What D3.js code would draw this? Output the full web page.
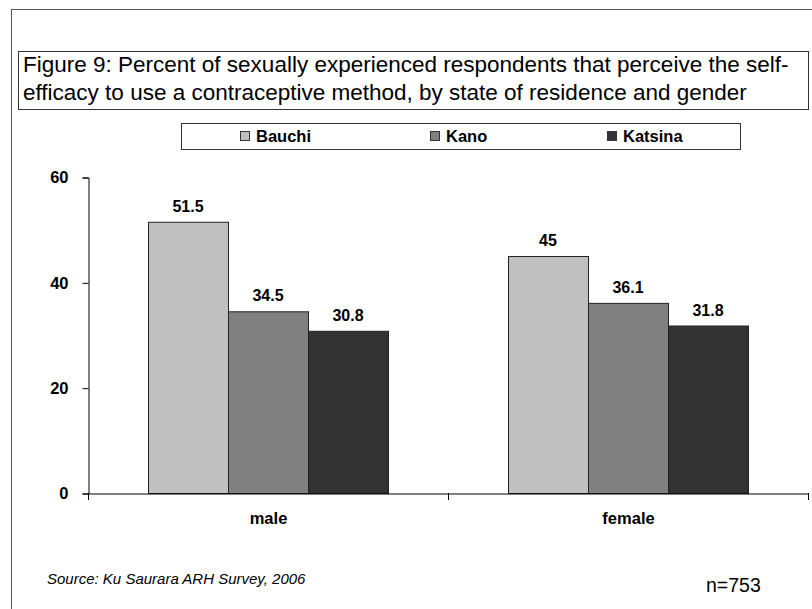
<!DOCTYPE html>
<html>
<head>
<meta charset="utf-8">
<script src="https://cdn.jsdelivr.net/npm/d3@7"></script>
<style>
  html, body { margin: 0; padding: 0; background: #fff; }
  svg { display: block; font-family: "Liberation Sans", Arial, sans-serif; }
</style>
</head>
<body>
<svg id="chart" width="812" height="609"></svg>
<script>
// Respondents who perceive self-efficacy to use a contraceptive method (%)
const categories = ["male", "female"];
const seriesNames = ["Bauchi", "Kano", "Katsina"];
const bauchi = [51.5, 45];
const kano = [34.5, 36.1];
const katsina = [30.8, 31.8];
const yTicks = [0, 20, 40, 60];
const seriesColors = ["#c0c0c0", "#808080", "#333333"];

const titleLines = [
  "Figure 9: Percent of sexually experienced respondents that perceive the self-",
  "efficacy to use a contraceptive method, by state of residence and gender"
];

const svg = d3.select("#chart");

// outer frame
svg.append("rect").attr("x", 11.5).attr("y", 9.5).attr("width", 812).attr("height", 620)
  .attr("fill", "none").attr("stroke", "#555").attr("stroke-width", 1);

// title box
svg.append("rect").attr("x", 18.5).attr("y", 51.5).attr("width", 790).attr("height", 58)
  .attr("fill", "#fff").attr("stroke", "#333").attr("stroke-width", 1);
svg.append("g").selectAll("text").data(titleLines).join("text")
  .attr("x", 23).attr("y", (d, i) => 72 + i * 28)
  .attr("font-size", 22.5).attr("fill", "#000").text(d => d);

const plotLeft = 88, plotRight = 808, plotTop = 177, plotBottom = 493;

const x0 = d3.scaleBand().domain(categories).range([plotLeft, plotRight]).paddingInner(0).paddingOuter(0);
const groupPad = (x0.bandwidth() - 240) / 2;
const x1 = d3.scaleBand().domain(seriesNames).range([groupPad, x0.bandwidth() - groupPad]);
const y = d3.scaleLinear().domain([0, 60]).range([plotBottom, plotTop]);

const rows = categories.map((c, i) => ({
  category: c,
  values: [bauchi[i], kano[i], katsina[i]].map((v, j) => ({ name: seriesNames[j], value: v, color: seriesColors[j] }))
}));

// legend
const legend = svg.append("g");
legend.append("rect").attr("x", 181.5).attr("y", 123.5).attr("width", 559).attr("height", 26)
  .attr("fill", "#fff").attr("stroke", "#333");
const legendX = [240, 430, 607];
seriesNames.forEach((n, i) => {
  legend.append("rect").attr("x", legendX[i] + 0.5).attr("y", 131.5).attr("width", 9).attr("height", 9)
    .attr("fill", seriesColors[i]).attr("stroke", "#333");
  legend.append("text").attr("x", legendX[i] + 16).attr("y", 142)
    .attr("font-size", 16.5).attr("font-weight", "bold").text(n);
});

// bars
const groups = svg.append("g").selectAll("g").data(rows).join("g")
  .attr("transform", d => `translate(${x0(d.category)},0)`);
groups.selectAll("rect").data(d => d.values).join("rect")
  .attr("x", d => x1(d.name) + 0.5)
  .attr("y", d => y(d.value) + 0.5)
  .attr("width", x1.bandwidth())
  .attr("height", d => plotBottom - y(d.value))
  .attr("fill", d => d.color)
  .attr("stroke", "#222").attr("stroke-width", 1);
groups.selectAll("text").data(d => d.values).join("text")
  .attr("x", d => x1(d.name) + x1.bandwidth() / 2)
  .attr("y", d => y(d.value) - 10)
  .attr("text-anchor", "middle").attr("font-size", 16).attr("font-weight", "bold")
  .text(d => d.value);

// y axis
const yAxis = svg.append("g").attr("transform", `translate(${plotLeft + 0.5},0.5)`)
  .call(d3.axisLeft(y).tickValues(yTicks).tickSize(6).tickPadding(14));
yAxis.select(".domain").attr("stroke", "#000");
yAxis.selectAll("text").attr("font-size", 16.5).attr("font-weight", "bold")
  .attr("font-family", "Liberation Sans, Arial, sans-serif").attr("fill", "#000");

// x axis
const xAxis = svg.append("g").attr("transform", `translate(0.5,${plotBottom + 0.5})`)
  .call(d3.axisBottom(x0).tickSize(0).tickPadding(19));
xAxis.select(".domain").attr("stroke", "#000");
xAxis.selectAll("text").attr("font-size", 16.5).attr("font-weight", "bold")
  .attr("font-family", "Liberation Sans, Arial, sans-serif").attr("fill", "#000");
// category boundary ticks
svg.append("g").selectAll("line").data([plotLeft, x0("female"), plotRight]).join("line")
  .attr("x1", d => d + 0.5).attr("x2", d => d + 0.5)
  .attr("y1", plotBottom).attr("y2", plotBottom + 7).attr("stroke", "#000");

// footnotes
svg.append("text").attr("x", 47).attr("y", 584).attr("font-size", 15).attr("font-style", "italic")
  .text("Source: Ku Saurara ARH Survey, 2006");
svg.append("text").attr("x", 706).attr("y", 592).attr("font-size", 19.5).text("n=753");
</script>
</body>
</html>
